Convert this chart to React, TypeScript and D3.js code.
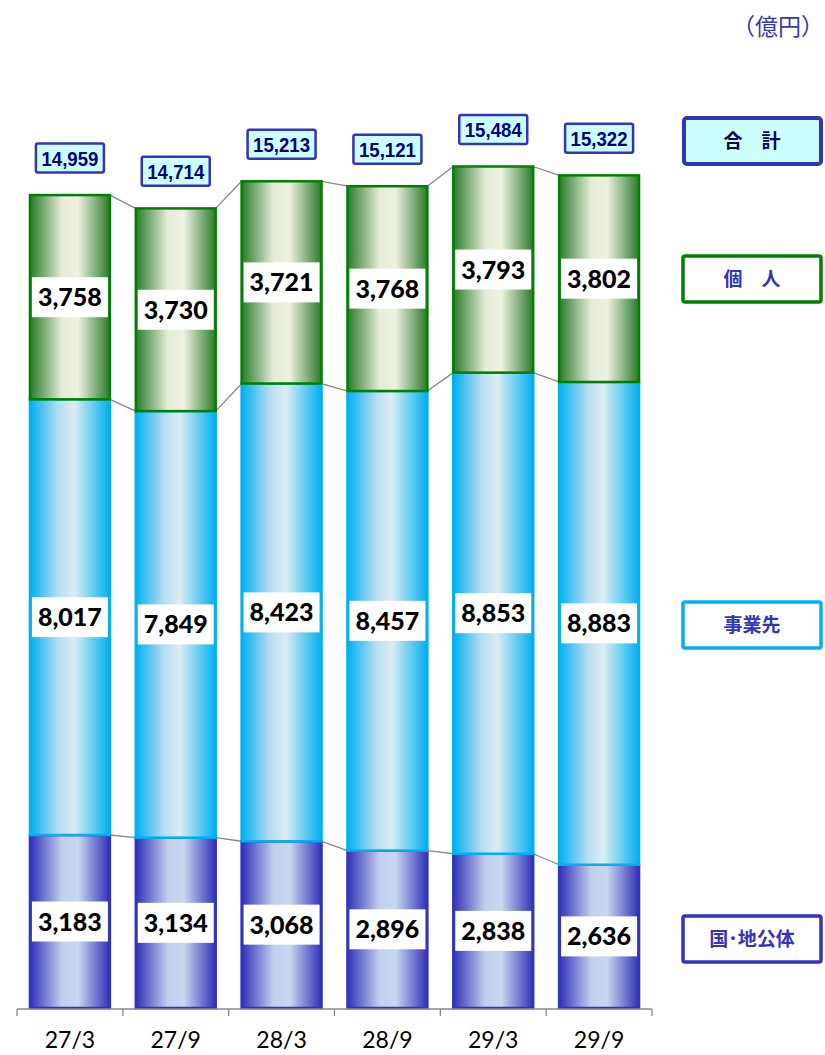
import React from "react";
import * as d3 from "d3";

const categories = ["27/3", "27/9", "28/3", "28/9", "29/3", "29/9"];
const govt = [3183, 3134, 3068, 2896, 2838, 2636];
const business = [8017, 7849, 8423, 8457, 8853, 8883];
const personal = [3758, 3730, 3721, 3768, 3793, 3802];
const totals = [14959, 14714, 15213, 15121, 15484, 15322];

const W = 825;
const H = 1055;
const fmt = d3.format(",");

const seriesDefs = [
  { key: "govt", values: govt, grad: "gGovt", stroke: "#3333c0", legend: "国･地公体", legendY: 939 },
  { key: "business", values: business, grad: "gBiz", stroke: "#00b0f0", legend: "事業先", legendY: 625 },
  { key: "personal", values: personal, grad: "gPers", stroke: "#008000", legend: "個　人", legendY: 279 },
];

const App: React.FC = () => {
  const x = d3
    .scaleBand<string>()
    .domain(categories)
    .range([17, 652])
    .paddingInner(0.245)
    .paddingOuter(0.1225);
  const y = d3.scaleLinear().domain([0, 15484]).range([1008, 166.5]);
  const bw = x.bandwidth();
  const step = x.step();

  // stacked rows
  const stacks = categories.map((c, i) => {
    let acc = 0;
    return seriesDefs.map((s) => {
      const y0 = acc;
      acc += s.values[i];
      return { c, y0, y1: acc, v: s.values[i], s };
    });
  });

  const ticks = d3.range(categories.length + 1).map((i) => 17 + i * step);

  return (
    <svg width={W} height={H} style={{ display: "block", position: "absolute", left: 0, top: 0 }}>
      <defs>
        <linearGradient id="gGovt" x1="0" x2="1" y1="0" y2="0">
          <stop offset="0" stopColor="#3030b8" />
          <stop offset="0.4" stopColor="#c2cfec" />
          <stop offset="0.6" stopColor="#c8d8f0" />
          <stop offset="1" stopColor="#3030b8" />
        </linearGradient>
        <linearGradient id="gBiz" x1="0" x2="1" y1="0" y2="0">
          <stop offset="0" stopColor="#00b0f0" />
          <stop offset="0.35" stopColor="#b5dcf0" />
          <stop offset="0.55" stopColor="#dcedf3" />
          <stop offset="1" stopColor="#00b0f0" />
        </linearGradient>
        <linearGradient id="gPers" x1="0" x2="1" y1="0" y2="0">
          <stop offset="0" stopColor="#2a7a2a" />
          <stop offset="0.4" stopColor="#e6ecd8" />
          <stop offset="0.6" stopColor="#eef2e2" />
          <stop offset="1" stopColor="#2a7a2a" />
        </linearGradient>
      </defs>

      {/* unit */}
      <text x={824} y={35} textAnchor="end" fontSize={23} fill="#3a3aa8" fontFamily="'Noto Sans CJK JP', sans-serif">
        （億円）
      </text>

      {/* connector lines */}
      {categories.slice(0, -1).map((c, i) => {
        const next = categories[i + 1];
        return stacks[i].map((seg, j) => (
          <line
            key={`cl-${i}-${j}`}
            x1={x(c)! + bw}
            x2={x(next)!}
            y1={y(seg.y1)}
            y2={y(stacks[i + 1][j].y1)}
            stroke="#888"
            strokeWidth={1.3}
          />
        ));
      })}

      {/* bars */}
      {stacks.map((segs, i) =>
        segs.map((seg) => (
          <rect
            key={`b-${i}-${seg.s.key}`}
            x={x(seg.c)!}
            y={y(seg.y1)}
            width={bw}
            height={y(seg.y0) - y(seg.y1)}
            fill={`url(#${seg.s.grad})`}
            stroke={seg.s.stroke}
            strokeWidth={2.5}
          />
        ))
      )}

      {/* segment labels */}
      {stacks.map((segs, i) =>
        segs.map((seg) => {
          const cx = x(seg.c)! + bw / 2;
          const cy = (y(seg.y0) + y(seg.y1)) / 2;
          return (
            <g key={`l-${i}-${seg.s.key}`}>
              <rect x={cx - 38} y={cy - 20} width={76} height={40} fill="#fff" />
              <text
                x={cx}
                y={cy + 9}
                textAnchor="middle"
                fontSize={25}
                fontWeight="900"
                fontFamily="Lato, 'Open Sans', sans-serif"
                fill="#000"
              >
                {fmt(seg.v)}
              </text>
            </g>
          );
        })
      )}

      {/* totals */}
      {categories.map((c, i) => {
        const cx = x(c)! + bw / 2;
        const cy = y(totals[i]) - 37;
        return (
          <g key={`t-${c}`}>
            <rect x={cx - 34} y={cy - 14.5} width={68} height={29} rx={2} fill="#ccffff" stroke="#3333bb" strokeWidth={2.5} />
            <text
              x={cx}
              y={cy + 7.5}
              textAnchor="middle"
              fontSize={21}
              fontWeight="bold"
              fontFamily="'Liberation Sans Narrow', 'Liberation Sans', sans-serif"
              fill="#000080"
              textLength={57}
              lengthAdjust="spacingAndGlyphs"
            >
              {fmt(totals[i])}
            </text>
          </g>
        );
      })}

      {/* axis */}
      <line x1={17} x2={652} y1={1009} y2={1009} stroke="#888" strokeWidth={1.3} />
      {ticks.map((t, i) => (
        <line key={`tk-${i}`} x1={t} x2={t} y1={1009} y2={1016} stroke="#888" strokeWidth={1.3} />
      ))}
      {categories.map((c) => (
        <text
          key={`xl-${c}`}
          x={x(c)! + bw / 2}
          y={1048}
          textAnchor="middle"
          fontSize={23}
          fontFamily="Lato, 'Open Sans', sans-serif"
          fill="#000"
        >
          {c}
        </text>
      ))}

      {/* legend */}
      <g>
        <rect x={684} y={118} width={137} height={46} rx={3} fill="#ccffff" stroke="#3333bb" strokeWidth={4} />
        <text x={752} y={148} textAnchor="middle" fontSize={19} fontWeight="bold" fill="#000060" fontFamily="'Noto Sans CJK JP', sans-serif">
          合　計
        </text>
      </g>
      {seriesDefs.map((s) => (
        <g key={`lg-${s.key}`}>
          <rect x={683} y={s.legendY - 23} width={138} height={46} rx={2} fill="#fff" stroke={s.stroke} strokeWidth={3.5} />
          <text
            x={752}
            y={s.legendY + 7}
            textAnchor="middle"
            fontSize={19}
            fontWeight="bold"
            fill="#3333bb"
            fontFamily="'Noto Sans CJK JP', sans-serif"
          >
            {s.legend}
          </text>
        </g>
      ))}
    </svg>
  );
};

export default App;
